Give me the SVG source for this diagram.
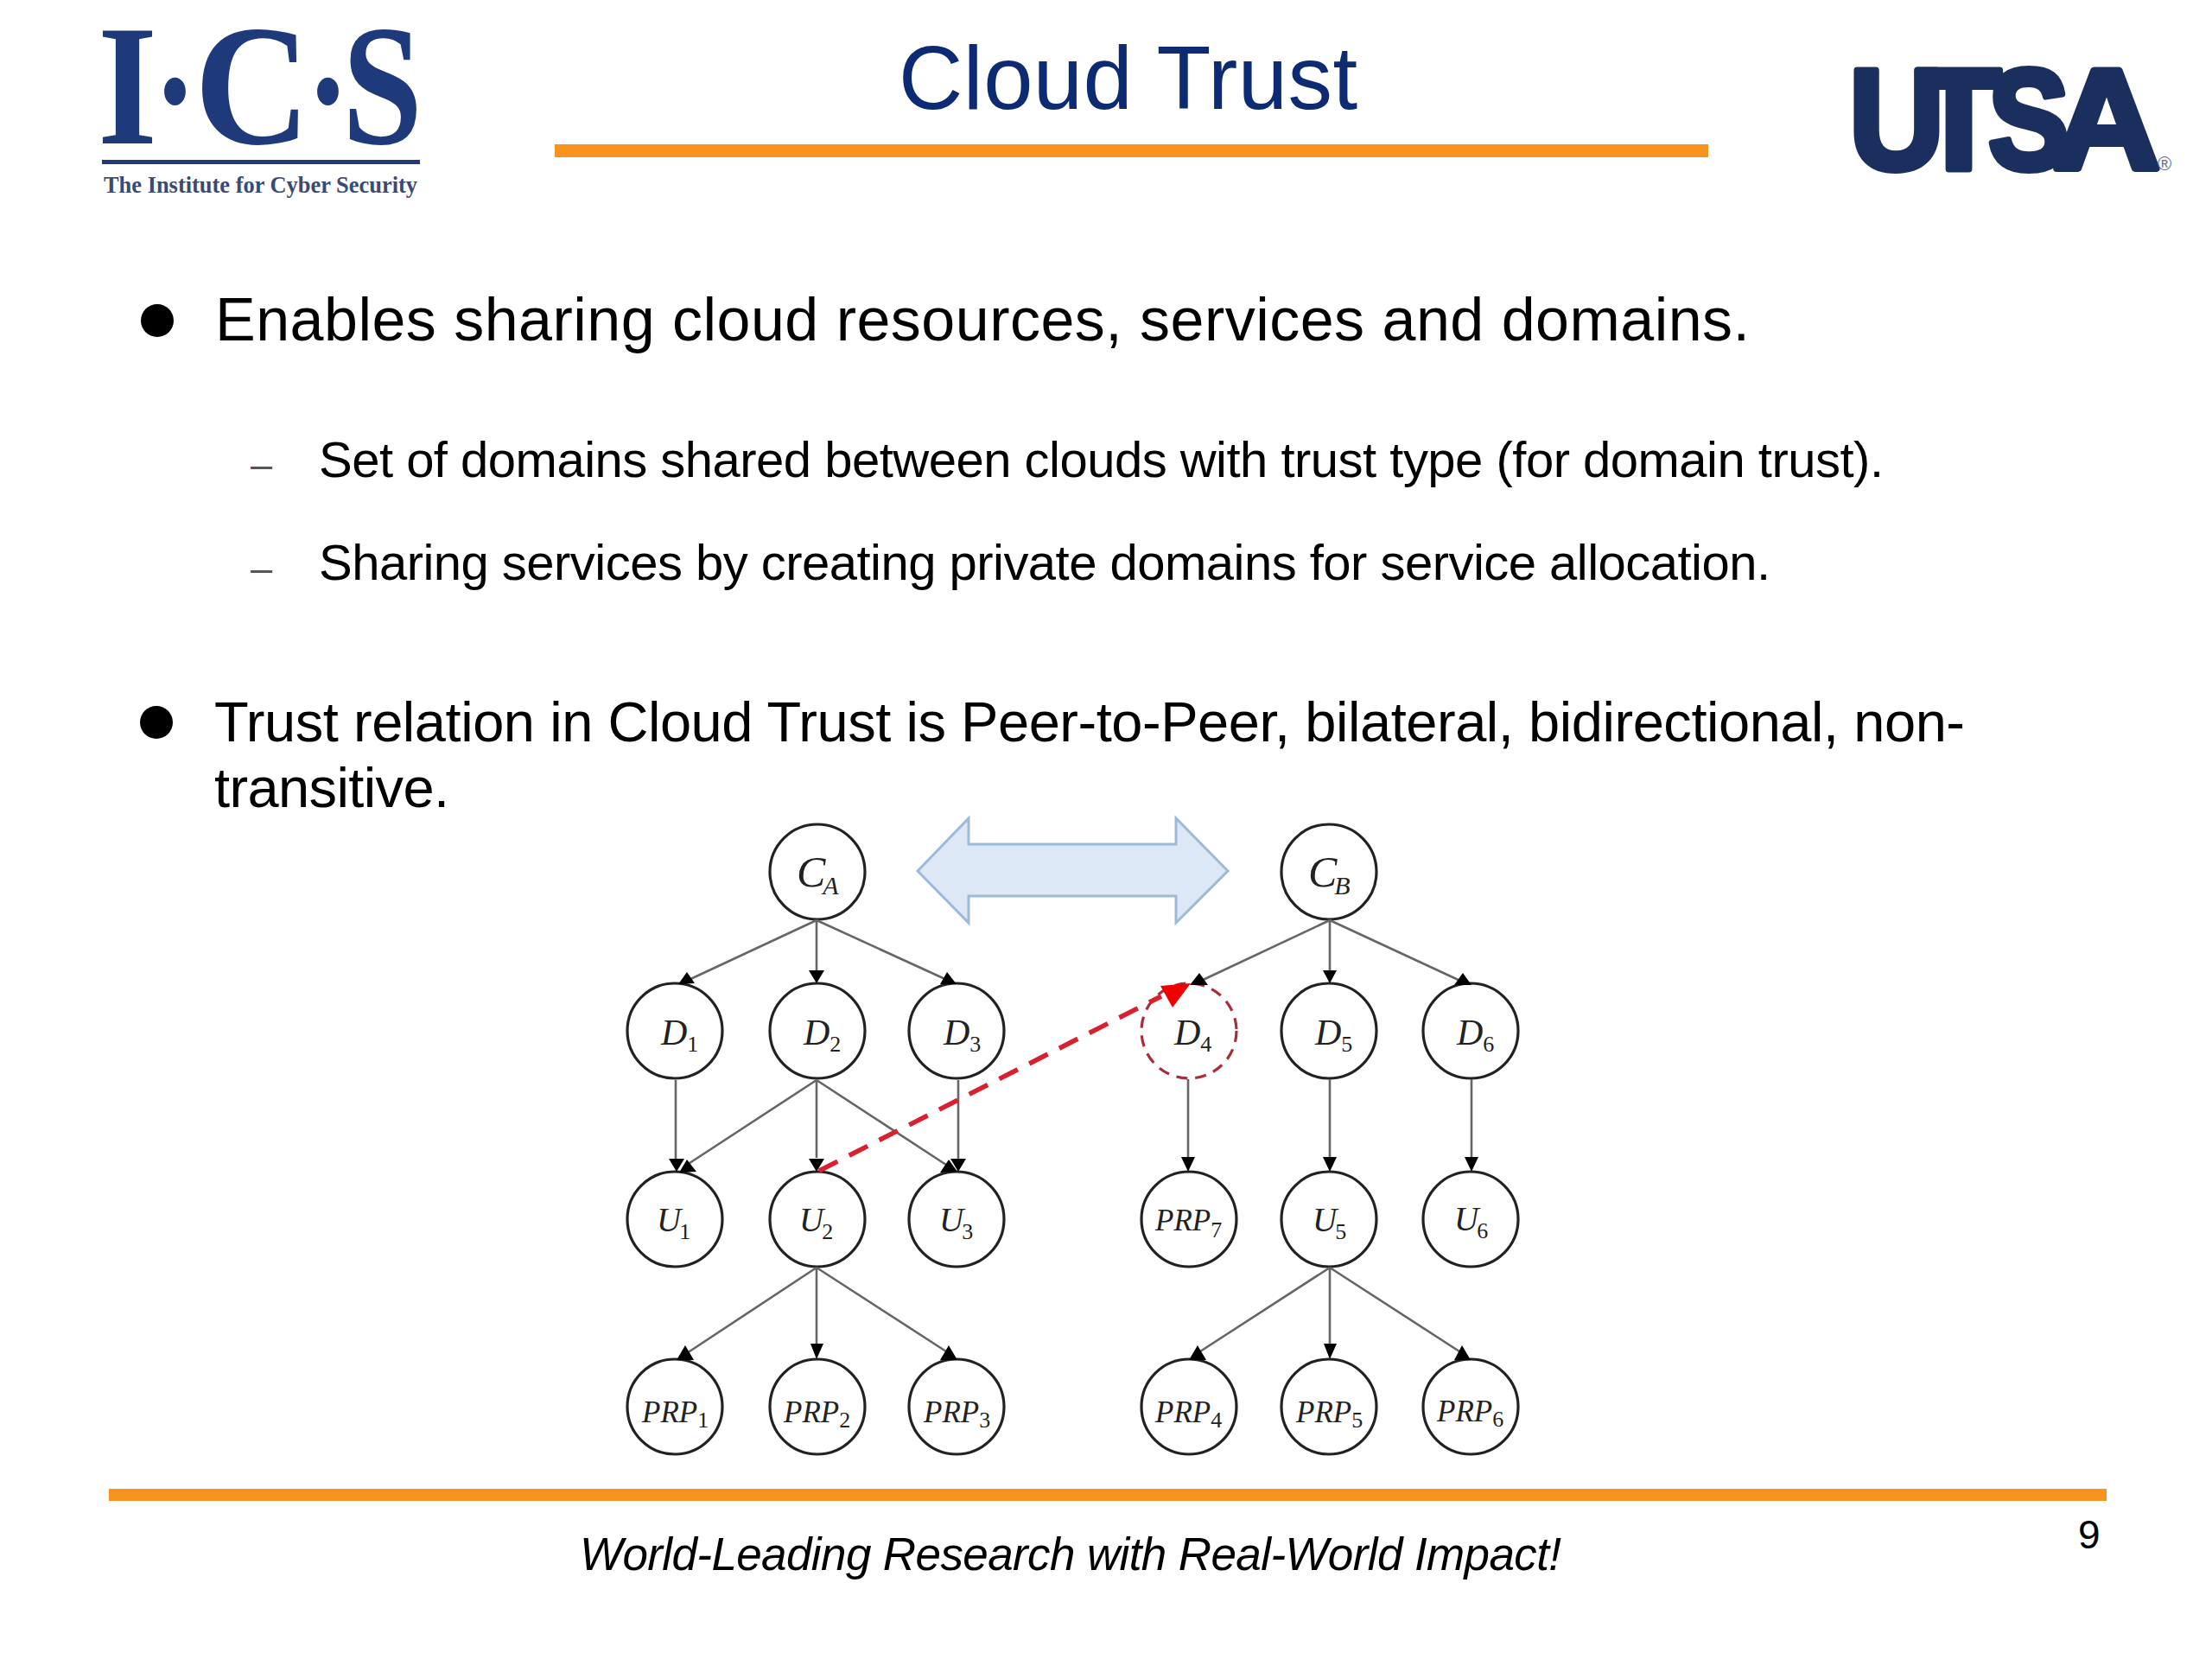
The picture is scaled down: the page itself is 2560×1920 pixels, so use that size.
<svg xmlns="http://www.w3.org/2000/svg" width="2560" height="1920" viewBox="0 0 2560 1920">
<style>
text{font-family:"Liberation Sans",Arial,sans-serif;fill:#000}
.logo{font-family:"Liberation Serif","Times New Roman",serif;font-weight:700;fill:#1f3a7a}
.utsa{font-family:"Liberation Sans",Arial,sans-serif;font-weight:700;font-size:166px;fill:#1b2f5e;stroke:#1b2f5e;stroke-width:8px;stroke-linejoin:round}
.b1{font-size:70px}.b2{font-size:58px}.bar{fill:#f8931d}
.dash{font-size:45px;fill:#555}
.n{fill:#fff;stroke:#222;stroke-width:3.2}
.nd{fill:#fff;stroke:#a92d3c;stroke-width:3.2;stroke-dasharray:13 9}
.l{font-family:"Liberation Serif","Times New Roman",serif;font-style:italic;fill:#222;font-size:42px}
.lc{font-size:50px}.lu{font-size:39px}.lp{font-size:35px}
.s{font-style:normal;font-size:26px}.sc{font-style:italic;font-size:30px}
.e{stroke:#666;stroke-width:2.6;fill:none}
.ah{fill:#000}
</style>
<rect width="2560" height="1920" fill="#fff"/>
<g id="logo-ics">
<text class="logo" x="113" y="166" font-size="200" textLength="69" lengthAdjust="spacingAndGlyphs">I</text>
<text class="logo" x="177" y="172" font-size="200" textLength="51" lengthAdjust="spacingAndGlyphs">·</text>
<text class="logo" x="225" y="166" font-size="200" textLength="134" lengthAdjust="spacingAndGlyphs">C</text>
<text class="logo" x="354" y="172" font-size="200" textLength="51" lengthAdjust="spacingAndGlyphs">·</text>
<text class="logo" x="396" y="166" font-size="200" textLength="93" lengthAdjust="spacingAndGlyphs">S</text>
<rect x="118" y="185" width="368" height="5" fill="#1f3a7a"/>
<text x="120" y="223" font-size="27" font-weight="700" style="font-family:'Liberation Serif',serif;fill:#3b4a72" textLength="363" lengthAdjust="spacingAndGlyphs">The Institute for Cyber Security</text>
</g>
<g id="logo-utsa">
<text class="utsa" x="2140" y="195" textLength="110" lengthAdjust="spacingAndGlyphs">U</text>
<text class="utsa" x="2218" y="195" textLength="98" lengthAdjust="spacingAndGlyphs">T</text>
<text class="utsa" x="2301" y="195" textLength="94" lengthAdjust="spacingAndGlyphs">S</text>
<text class="utsa" x="2376" y="195" textLength="124" lengthAdjust="spacingAndGlyphs">A</text>
<text x="2497" y="197" font-size="22" style="fill:#5d6d90">®</text>
</g>
<text id="title" x="1040" y="126" font-size="103" style="fill:#0c2b73" textLength="531">Cloud Trust</text>
<rect class="bar" x="642" y="167" width="1335" height="15"/>
<circle cx="182" cy="371" r="19"/>
<text class="b1" x="249" y="394" textLength="1776">Enables sharing cloud resources, services and domains.</text>
<text class="dash" x="290" y="553">–</text>
<text class="b2" x="369" y="552" textLength="1811">Set of domains shared between clouds with trust type (for domain trust).</text>
<text class="dash" x="290" y="673">–</text>
<text class="b2" x="369" y="671" textLength="1680">Sharing services by creating private domains for service allocation.</text>
<circle cx="181" cy="836" r="19"/>
<text class="b1" style="font-size:65px" x="248" y="858" textLength="2026">Trust relation in Cloud Trust is Peer-to-Peer, bilateral, bidirectional, non-</text>
<text class="b1" style="font-size:65px" x="248" y="934" textLength="272">transitive.</text>
<polygon id="trust-arrow" points="1062,1008 1121,947 1121,977 1361,977 1361,947 1421,1008 1361,1068 1361,1037 1121,1037 1121,1068" fill="#dce8f5" stroke="#9dbbd9" stroke-width="3"/>
<g id="nodes">
<g id="CA"><circle class="n" cx="946" cy="1009" r="55"/><text class="l lc" x="922" y="1026">C<tspan class="sc" dy="9" dx="-3">A</tspan></text></g>
<g id="CB"><circle class="n" cx="1538" cy="1009" r="55"/><text class="l lc" x="1514" y="1026">C<tspan class="sc" dy="9" dx="-3">B</tspan></text></g>
<g id="D1"><circle class="n" cx="781" cy="1193" r="55"/><text class="l" x="765" y="1209">D<tspan class="s" dy="8">1</tspan></text></g>
<g id="D2"><circle class="n" cx="946" cy="1193" r="55"/><text class="l" x="930" y="1209">D<tspan class="s" dy="8">2</tspan></text></g>
<g id="D3"><circle class="n" cx="1107" cy="1193" r="55"/><text class="l" x="1092" y="1209">D<tspan class="s" dy="8">3</tspan></text></g>
<g id="D4"><circle class="nd" cx="1376" cy="1193" r="55"/><text class="l" x="1359" y="1209">D<tspan class="s" dy="8">4</tspan></text></g>
<g id="D5"><circle class="n" cx="1538" cy="1193" r="55"/><text class="l" x="1522" y="1209">D<tspan class="s" dy="8">5</tspan></text></g>
<g id="D6"><circle class="n" cx="1702" cy="1193" r="55"/><text class="l" x="1686" y="1209">D<tspan class="s" dy="8">6</tspan></text></g>
<g id="U1"><circle class="n" cx="781" cy="1411" r="55"/><text class="l lu" x="760" y="1425">U<tspan class="s" dy="9" dx="-2">1</tspan></text></g>
<g id="U2"><circle class="n" cx="946" cy="1411" r="55"/><text class="l lu" x="925" y="1425">U<tspan class="s" dy="9" dx="-2">2</tspan></text></g>
<g id="U3"><circle class="n" cx="1107" cy="1411" r="55"/><text class="l lu" x="1087" y="1425">U<tspan class="s" dy="9" dx="-2">3</tspan></text></g>
<g id="PRP7"><circle class="n" cx="1376" cy="1411" r="55"/><text class="l lp" x="1337" y="1424">PRP<tspan class="s" dy="8">7</tspan></text></g>
<g id="U5"><circle class="n" cx="1538" cy="1411" r="55"/><text class="l lu" x="1519" y="1425">U<tspan class="s" dy="9" dx="-2">5</tspan></text></g>
<g id="U6"><circle class="n" cx="1702" cy="1411" r="55"/><text class="l lu" x="1683" y="1424">U<tspan class="s" dy="9" dx="-2">6</tspan></text></g>
<g id="PRP1"><circle class="n" cx="781" cy="1628" r="55"/><text class="l lp" x="743" y="1646">PRP<tspan class="s" dy="6">1</tspan></text></g>
<g id="PRP2"><circle class="n" cx="946" cy="1628" r="55"/><text class="l lp" x="907" y="1646">PRP<tspan class="s" dy="6">2</tspan></text></g>
<g id="PRP3"><circle class="n" cx="1107" cy="1628" r="55"/><text class="l lp" x="1069" y="1646">PRP<tspan class="s" dy="6">3</tspan></text></g>
<g id="PRP4"><circle class="n" cx="1376" cy="1628" r="55"/><text class="l lp" x="1337" y="1646">PRP<tspan class="s" dy="6">4</tspan></text></g>
<g id="PRP5"><circle class="n" cx="1538" cy="1628" r="55"/><text class="l lp" x="1500" y="1646">PRP<tspan class="s" dy="6">5</tspan></text></g>
<g id="PRP6"><circle class="n" cx="1702" cy="1628" r="55"/><text class="l lp" x="1663" y="1645">PRP<tspan class="s" dy="6">6</tspan></text></g>
</g>
<g id="connectors">
<path class="e" d="M945 1065L795 1135M945 1065V1125M945 1065L1098 1135M945 1250L792 1350M945 1250V1340M945 1250L1098 1350M782 1250V1342M1109 1250V1342M1539 1065L1388 1136M1539 1065V1125M1539 1065L1692 1136M1375 1249V1340M1539 1249V1340M1703 1249V1340M945 1467L795 1566M945 1467V1556M945 1467L1098 1566M1539 1467L1386 1566M1539 1467V1556M1539 1467L1692 1566"/>
<path class="ah" d="M795 1125L785 1139 804 1138ZM936 1123H954L945 1138ZM1096 1125L1088 1139 1107 1139ZM774 1341H792L783 1356ZM795 1342L786 1357 806 1356ZM936 1341H954L945 1356ZM1098 1342L1088 1357 1108 1356ZM1100 1341H1118L1109 1356ZM1388 1126L1377 1140 1398 1140ZM1531 1123H1547L1539 1138ZM1693 1126L1683 1140 1703 1140ZM1367 1339H1383L1375 1356ZM1531 1339H1547L1539 1356ZM1695 1339H1711L1703 1356ZM793 1557L783 1574 803 1574ZM938 1555H953L945 1573ZM1098 1557L1088 1574 1108 1574ZM1386 1557L1376 1574 1396 1574ZM1532 1555H1547L1539 1573ZM1692 1557L1683 1574 1702 1574Z"/>
<path d="M948 1355L1344 1153" fill="none" stroke="#d8202e" stroke-width="5.5" stroke-dasharray="24 15"/>
<polygon points="1343,1141 1378,1138 1357,1166" fill="#f00000"/>
</g>
<rect class="bar" x="126" y="1723" width="2312" height="14"/>
<text x="671" y="1817" font-size="53" font-style="italic" textLength="1136">World-Leading Research with Real-World Impact!</text>
<text x="2405" y="1792" font-size="46">9</text>
</svg>
